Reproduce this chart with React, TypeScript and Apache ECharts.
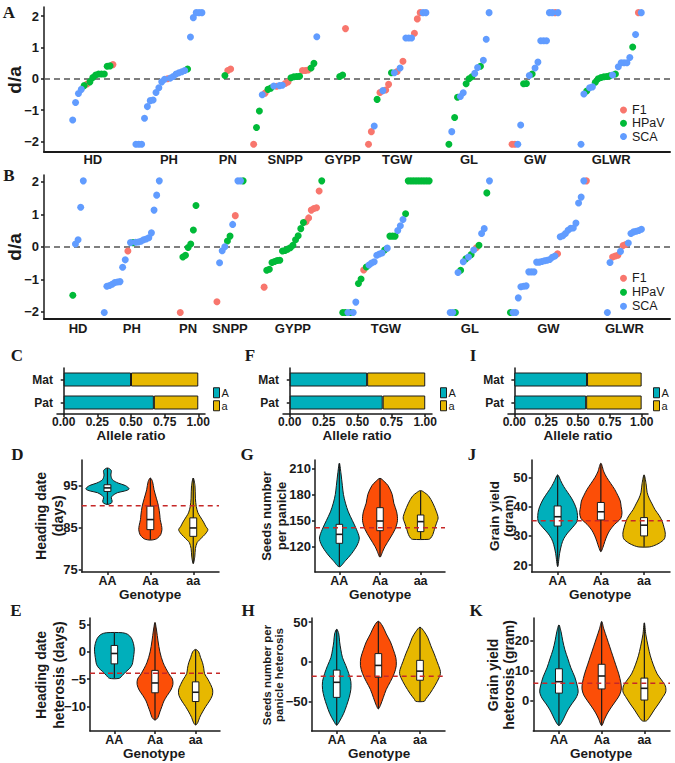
import React, { useEffect, useRef } from "react";
import * as echarts from "echarts";

const FONT = '"Liberation Sans", Arial, Helvetica, sans-serif';
const SERIF = '"Liberation Serif", "Times New Roman", serif';
const INK = "#1a1a1a";

// ---------------- Panels A / B : d/a per trait ----------------
const TRAITS = ["HD", "PH", "PN", "SNPP", "GYPP", "TGW", "GL", "GW", "GLWR"];
const SOURCE_NAMES = ["F1", "HPaV", "SCA"];
const SOURCE_CODES = ["F", "H", "S"];
const SOURCE_COLORS = ["#F8766D", "#00BA38", "#619CFF"];
const DA_TICKS = [-2, -1, 0, 1, 2];

type P = [number, string];

const A_HD: P[] = [[-1.32,"S"],[-0.76,"S"],[-0.47,"S"],[-0.34,"S"],[-0.22,"H"],[-0.17,"F"],[-0.10,"H"],[0.04,"H"],[0.12,"H"],[0.15,"H"],[0.15,"H"],[0.15,"H"],[0.40,"H"],[0.41,"H"],[0.45,"F"]];
const A_PH: P[] = [[-2.09,"S"],[-2.09,"S"],[-2.09,"S"],[-1.26,"S"],[-0.89,"S"],[-0.70,"S"],[-0.68,"S"],[-0.44,"S"],[-0.29,"S"],[-0.10,"S"],[-0.02,"S"],[0,"F"],[0.02,"S"],[0.07,"S"],[0.15,"S"],[0.19,"S"],[0.22,"S"],[0.26,"S"],[0.31,"H"],[1.33,"S"],[1.95,"S"],[2.11,"S"],[2.11,"S"],[2.11,"S"]];
const A_PN: P[] = [[0.10,"H"],[0.26,"F"],[0.31,"F"]];
const A_SNPP: P[] = [[-2.09,"F"],[-1.56,"H"],[-1.03,"H"],[-0.51,"S"],[-0.46,"F"],[-0.34,"H"],[-0.30,"H"],[-0.23,"S"],[-0.24,"F"],[-0.22,"S"],[-0.21,"S"],[-0.15,"F"],[-0.10,"F"],[0.03,"H"],[0.06,"H"],[0.07,"H"],[0.08,"H"],[0.26,"F"],[0.26,"F"],[0.28,"F"],[0.34,"H"],[0.49,"H"],[1.34,"S"]];
const A_GYPP: P[] = [[0.07,"H"],[0.12,"H"],[1.60,"F"]];
const A_TGW: P[] = [[-2.09,"F"],[-1.69,"F"],[-1.51,"S"],[-0.66,"H"],[-0.44,"F"],[-0.38,"S"],[-0.36,"F"],[-0.18,"F"],[0.19,"H"],[0.19,"S"],[0.23,"F"],[0.34,"S"],[0.56,"F"],[1.30,"S"],[1.30,"S"],[1.30,"S"],[1.45,"F"],[1.91,"F"],[2.11,"F"],[2.11,"S"],[2.11,"S"]];
const A_GL: P[] = [[-2.09,"H"],[-1.69,"S"],[-1.24,"H"],[-0.59,"H"],[-0.57,"S"],[-0.45,"S"],[-0.16,"H"],[0,"H"],[0.06,"H"],[0.17,"S"],[0.36,"S"],[0.40,"H"],[0.59,"S"],[1.26,"S"],[2.11,"S"]];
const A_GW: P[] = [[-2.09,"F"],[-2.09,"F"],[-2.09,"S"],[-1.48,"S"],[-0.16,"H"],[-0.15,"H"],[0.10,"S"],[0.15,"H"],[0.34,"S"],[0.53,"S"],[1.21,"S"],[1.21,"S"],[1.21,"S"],[2.11,"S"],[2.11,"S"],[2.11,"F"],[2.11,"S"]];
const A_GLWR: P[] = [[-2.09,"S"],[-0.49,"S"],[-0.39,"H"],[-0.29,"S"],[-0.26,"S"],[-0.11,"H"],[0,"H"],[0.04,"H"],[0.06,"H"],[0.07,"H"],[0.09,"H"],[0.12,"S"],[0.15,"H"],[0.38,"S"],[0.51,"S"],[0.51,"S"],[0.51,"S"],[0.68,"S"],[1.01,"H"],[1.41,"S"],[2.11,"F"],[2.11,"S"]];

const B_HD: P[] = [[-1.49,"H"],[0.09,"S"],[0.22,"S"],[1.22,"S"],[2.03,"S"]];
const B_PH: P[] = [[-2.02,"S"],[-1.21,"S"],[-1.19,"S"],[-1.15,"S"],[-1.10,"S"],[-1.08,"S"],[-1.07,"S"],[-0.63,"S"],[-0.40,"S"],[-0.13,"F"],[0.13,"S"],[0.13,"H"],[0.14,"S"],[0.15,"S"],[0.17,"S"],[0.22,"S"],[0.24,"S"],[0.28,"S"],[0.43,"S"],[1.13,"S"],[1.59,"S"],[2.03,"S"]];
const B_PN: P[] = [[-2.02,"F"],[-0.31,"H"],[-0.26,"H"],[-0.02,"H"],[0.09,"H"],[0.52,"H"],[1.27,"H"]];
const B_SNPP: P[] = [[-1.69,"F"],[-0.49,"S"],[-0.12,"S"],[0,"S"],[0.18,"H"],[0.33,"H"],[0.69,"S"],[0.96,"F"],[2.03,"S"],[2.03,"S"],[2.03,"H"]];
const B_GYPP: P[] = [[-1.24,"F"],[-0.72,"H"],[-0.69,"H"],[-0.48,"H"],[-0.45,"H"],[-0.42,"H"],[-0.41,"H"],[-0.13,"H"],[-0.11,"H"],[-0.07,"H"],[-0.03,"H"],[0.05,"H"],[0.22,"H"],[0.34,"H"],[0.56,"H"],[0.75,"H"],[0.77,"F"],[0.89,"F"],[1.13,"F"],[1.18,"F"],[1.20,"F"],[1.72,"F"],[2.03,"H"]];
const B_TGW: P[] = [[-2.02,"H"],[-2.02,"H"],[-2.02,"S"],[-2.02,"H"],[-2.02,"S"],[-1.70,"S"],[-1.13,"H"],[-0.99,"H"],[-0.71,"F"],[-0.62,"H"],[-0.56,"S"],[-0.50,"S"],[-0.46,"S"],[-0.26,"S"],[-0.22,"S"],[-0.19,"S"],[-0.10,"H"],[-0.04,"S"],[0.33,"H"],[0.33,"H"],[0.33,"H"],[0.50,"S"],[0.65,"S"],[0.84,"S"],[1.02,"H"],[2.03,"H"],[2.03,"H"],[2.03,"H"],[2.03,"H"],[2.03,"H"],[2.03,"H"],[2.03,"H"],[2.03,"H"],[2.03,"H"]];
const B_GL: P[] = [[-2.02,"S"],[-2.02,"S"],[-2.02,"H"],[-0.79,"S"],[-0.72,"H"],[-0.46,"S"],[-0.37,"H"],[-0.31,"S"],[-0.24,"H"],[-0.10,"S"],[-0.03,"F"],[0.05,"H"],[0.41,"S"],[0.56,"S"],[1.66,"H"],[2.03,"S"]];
const B_GW: P[] = [[-2.02,"H"],[-2.02,"S"],[-2.02,"S"],[-1.57,"S"],[-1.23,"S"],[-1.21,"S"],[-1.20,"S"],[-0.77,"S"],[-0.77,"S"],[-0.77,"S"],[-0.47,"S"],[-0.47,"S"],[-0.45,"S"],[-0.43,"S"],[-0.41,"S"],[-0.39,"S"],[-0.32,"S"],[-0.28,"S"],[-0.21,"F"],[0.31,"S"],[0.34,"S"],[0.41,"S"],[0.51,"S"],[0.57,"S"],[0.58,"S"],[0.73,"S"],[1.35,"S"],[1.53,"S"],[2.03,"S"],[2.03,"F"]];
const B_GLWR: P[] = [[-2.02,"S"],[-0.48,"S"],[-0.31,"F"],[-0.28,"F"],[-0.26,"F"],[-0.14,"S"],[0.04,"F"],[0.07,"F"],[0.12,"S"],[0.41,"S"],[0.46,"S"],[0.48,"S"],[0.50,"S"],[0.54,"S"]];

const A_GROUPS = [A_HD, A_PH, A_PN, A_SNPP, A_GYPP, A_TGW, A_GL, A_GW, A_GLWR];
const B_GROUPS = [B_HD, B_PH, B_PN, B_SNPP, B_GYPP, B_TGW, B_GL, B_GW, B_GLWR];

// ---------------- Panels C / F / I : allele ratio ----------------
const PARENTS = ["Pat", "Mat"];
const ALLELES = ["A", "a"];
const RATIO_TICKS = [0, 0.25, 0.5, 0.75, 1];
const C_A = [0.67, 0.5];
const C_a = [0.33, 0.5];
const F_A = [0.686, 0.571];
const F_a = [0.314, 0.429];
const I_A = [0.564, 0.571];
const I_a = [0.436, 0.429];

// ---------------- Violin panels ----------------
const GENOTYPES = ["AA", "Aa", "aa"];
const GENO_COLORS = ["#00AFBB", "#FC4E07", "#E7B800"];
type V = [number, number]; // [value, half width in genotype units]

// D: Heading date (days)
const D_TICKS = [75, 85, 95];
const D_AA: V[] = [[99.2,0],[98.6,0.09],[97.5,0.08],[96.4,0.117],[95.6,0.25],[95.0,0.42],[94.2,0.505],[93.7,0.4],[93.3,0.23],[92.6,0.12],[92.1,0.09],[91.3,0.11],[90.8,0.09],[90.5,0]];
const D_Aa: V[] = [[96.8,0],[96.0,0.05],[94.0,0.086],[92,0.14],[90.1,0.19],[88,0.22],[86.9,0.23],[85.5,0.26],[84.5,0.27],[83.3,0.24],[82.5,0.17],[82.2,0.12],[82.0,0]];
const D_aa: V[] = [[96.8,0],[95,0.04],[92,0.05],[90,0.07],[88.5,0.11],[87.7,0.155],[86.3,0.24],[85.3,0.29],[84.5,0.34],[83.7,0.3],[82.9,0.23],[82,0.14],[81.4,0.09],[80,0.05],[78,0.035],[76.4,0]];
const D_BOX = [[90.5,93.6,94.45,95.2,99.2],[82.1,84.5,86.9,90.1,96.8],[76.4,82.9,84.9,87.3,96.8]];
const D_MEAN = 90.2;

// G: Seeds number per panicle
const G_TICKS = [120, 150, 180, 210];
const G_AA: V[] = [[216,0],[205,0.037],[190,0.074],[180,0.1],[170,0.15],[160,0.22],[150,0.32],[140,0.42],[130,0.49],[122,0.44],[112,0.3],[104,0.15],[97,0]];
const G_Aa: V[] = [[198.5,0],[195,0.1],[190,0.2],[180,0.3],[170,0.34],[160,0.41],[150,0.43],[140,0.37],[130,0.25],[120,0.12],[115,0.07],[108,0]];
const G_aa: V[] = [[184.5,0],[182,0.1],[178,0.2],[170,0.3],[160,0.39],[153,0.43],[147,0.39],[140,0.34],[134,0.3],[130,0.25],[128.5,0.2]];
const G_BOX = [[97,123.9,134.2,145.7,215],[108.5,138.4,149.5,164.8,198],[128.5,137.3,148.8,156.4,184]];
const G_MEAN = 141.9;

// J: Grain yield (gram)
const J_TICKS = [20, 30, 40, 50];
const J_AA: V[] = [[51,0],[49,0.07],[47,0.14],[45,0.23],[43,0.32],[41,0.39],[39,0.44],[37,0.46],[35,0.45],[33,0.35],[31,0.23],[29,0.14],[27,0.09],[24,0.046],[19.5,0]];
const J_Aa: V[] = [[55,0],[52,0.07],[50,0.14],[48,0.23],[46,0.32],[44,0.39],[42,0.45],[40,0.47],[38,0.49],[36,0.46],[34,0.32],[32,0.21],[30,0.14],[28,0.09],[26,0.046],[24.6,0]];
const J_aa: V[] = [[51,0],[48,0.046],[45,0.07],[43,0.116],[41,0.185],[39,0.255],[37,0.35],[35,0.42],[33,0.46],[31,0.49],[29,0.47],[27.5,0.35],[26.6,0.22],[26.2,0.12]];
const J_BOX = [[19.5,33.4,36.6,40.3,50.9],[24.6,35.5,38.3,41.5,54.8],[26.3,30,33.7,36.3,50.9]];
const J_MEAN = 35.2;

// E: Heading date heterosis (days)
const E_TICKS = [-10, -5, 0, 5];
const E_AA: V[] = [[3.5,0.2],[3.2,0.33],[2.5,0.42],[1.5,0.47],[0.5,0.49],[-0.5,0.48],[-1.5,0.46],[-2.3,0.44],[-3,0.38],[-3.6,0.29],[-4.3,0.2],[-4.85,0.12]];
const E_Aa: V[] = [[5.4,0],[4,0.037],[2,0.074],[0,0.12],[-2,0.2],[-4,0.34],[-5,0.43],[-6,0.44],[-7,0.39],[-8,0.3],[-9,0.22],[-10,0.17],[-11,0.12],[-12,0.074],[-12.5,0]];
const E_aa: V[] = [[0.45,0],[0,0.074],[-1,0.12],[-2,0.17],[-3,0.2],[-4,0.22],[-5,0.3],[-6,0.37],[-7,0.42],[-8,0.41],[-9,0.34],[-10,0.25],[-11,0.17],[-12,0.1],[-13,0.05],[-13.4,0]];
const E_BOX = [[-4.85,-2.2,-0.3,1.17,3.5],[-12.5,-7.5,-5.7,-3.4,5.3],[-13.4,-9.1,-7.4,-5.5,0.4]];
const E_MEAN = -3.9;

// H: Seeds number per panicle heterosis
const H_TICKS = [-50, 0, 50];
const H_AA: V[] = [[41,0],[35,0.05],[25,0.07],[15,0.1],[5,0.14],[-5,0.22],[-15,0.29],[-25,0.34],[-35,0.34],[-45,0.3],[-55,0.24],[-65,0.17],[-75,0.07],[-80,0]];
const H_Aa: V[] = [[51,0],[45,0.1],[35,0.19],[25,0.29],[15,0.36],[5,0.42],[-5,0.43],[-15,0.38],[-25,0.29],[-35,0.19],[-45,0.12],[-55,0.05],[-59.5,0]];
const H_aa: V[] = [[43.5,0],[38,0.1],[30,0.19],[20,0.26],[10,0.34],[0,0.41],[-10,0.48],[-15,0.49],[-20,0.46],[-30,0.36],[-40,0.24],[-47,0.14],[-50,0.1]];
const H_BOX = [[-80,-45,-26,-10.6,41],[-59.5,-19.6,-4.7,10.2,51],[-50,-23.4,-11.9,1.7,43.4]];
const H_MEAN = -18.3;

// K: Grain yield heterosis (gram)
const K_TICKS = [0, 10, 20];
const K_AA: V[] = [[25.3,0],[23,0.05],[20,0.09],[17,0.14],[14,0.21],[11,0.28],[8,0.37],[5,0.43],[3,0.45],[1,0.4],[-1,0.3],[-3,0.21],[-5,0.14],[-7,0.07],[-8.2,0]];
const K_Aa: V[] = [[26.4,0],[24,0.05],[21,0.12],[18,0.19],[15,0.26],[12,0.33],[9,0.4],[6,0.45],[4,0.46],[2,0.42],[0,0.33],[-2,0.23],[-4,0.14],[-6,0.07],[-8.2,0]];
const K_aa: V[] = [[26,0],[22,0.035],[18,0.09],[15,0.14],[12,0.21],[9,0.3],[7,0.4],[5,0.49],[3,0.5],[1,0.42],[-1,0.33],[-3,0.23],[-5,0.14],[-6.6,0.05]];
const K_BOX = [[-8.2,2.6,6.4,10.7,25.3],[-8.2,4,8.3,12.2,26.4],[-6.6,0.3,4.2,7.6,25.9]];
const K_MEAN = 5.9;

// ---------------- helpers ----------------
const minus = (v: number) => (v < 0 ? "\u2212" + Math.abs(v) : String(v));
const lineStyle = { color: INK, width: 1.5 };

function layoutTraits(groups: P[][], start: number, gap: number) {
  const xs: number[][] = [];
  const centers: number[] = [];
  let pos = start;
  groups.forEach((g) => {
    xs.push(g.map((_, i) => pos + i));
    centers.push(pos + (g.length - 1) / 2);
    pos += g.length - 1 + gap;
  });
  return { xs, centers };
}

function valueYAxis(gridIndex: number, min: number, max: number, ticks: number[], fontSize: number, margin: number) {
  return {
    type: "value", gridIndex, min, max,
    axisLine: { show: true, lineStyle },
    axisTick: { show: true, length: 3, customValues: ticks, lineStyle },
    axisLabel: { customValues: ticks, formatter: (v: number) => minus(v), fontSize, fontWeight: "bold", fontFamily: FONT, color: INK, margin },
    splitLine: { show: false },
  };
}

function genoXAxis(gridIndex: number) {
  return {
    type: "value", gridIndex, min: 0.4, max: 3.6,
    axisLine: { show: true, onZero: false, lineStyle },
    axisTick: { show: true, length: 3, customValues: [1, 2, 3], lineStyle },
    axisLabel: { customValues: [1, 2, 3], formatter: (v: number) => GENOTYPES[Math.round(v) - 1], fontSize: 12.5, fontWeight: "bold", fontFamily: FONT, color: INK, margin: 2 },
    splitLine: { show: false },
  };
}

function scatterSeries(groups: P[][], layout: { xs: number[][] }, axisIdx: number) {
  return SOURCE_CODES.map((code, s) => {
    const data: number[][] = [];
    groups.forEach((g, gi) => g.forEach((p, i) => { if (p[1] === code) data.push([layout.xs[gi][i], p[0]]); }));
    return {
      type: "scatter", name: SOURCE_NAMES[s], xAxisIndex: axisIdx, yAxisIndex: axisIdx,
      symbolSize: 7, itemStyle: { color: SOURCE_COLORS[s], opacity: 1 }, data, silent: true, z: 3,
    };
  });
}

function violinSeries(profiles: V[][], boxes: number[][], axisIdx: number) {
  return {
    type: "custom", xAxisIndex: axisIdx, yAxisIndex: axisIdx, silent: true, z: 2,
    data: boxes.map((b, i) => [i + 1, b[2]]),
    renderItem: (params: any, api: any) => {
      const i = params.dataIndex;
      const cx = api.value(0) as number;
      const prof = profiles[i];
      const box = boxes[i];
      const right = prof.map(([v, w]) => api.coord([cx + w, v]));
      const left = prof.filter(([, w]) => w > 0).reverse().map(([v, w]) => api.coord([cx - w, v]));
      const bw = api.size([0.16, 0])[0];
      const xc = api.coord([cx, box[0]])[0];
      const yLow = api.coord([cx, box[0]])[1];
      const yQ1 = api.coord([cx, box[1]])[1];
      const yMed = api.coord([cx, box[2]])[1];
      const yQ3 = api.coord([cx, box[3]])[1];
      const yHigh = api.coord([cx, box[4]])[1];
      return {
        type: "group",
        children: [
          { type: "polygon", shape: { points: [...right, ...left], smooth: 0.3 }, style: { fill: GENO_COLORS[i], stroke: INK, lineWidth: 1 } },
          { type: "line", shape: { x1: xc, y1: yLow, x2: xc, y2: yHigh }, style: { stroke: INK, lineWidth: 1.2 } },
          { type: "rect", shape: { x: xc - bw / 2, y: yQ3, width: bw, height: yQ1 - yQ3 }, style: { fill: "#ffffff", stroke: INK, lineWidth: 1 } },
          { type: "line", shape: { x1: xc - bw / 2, y1: yMed, x2: xc + bw / 2, y2: yMed }, style: { stroke: INK, lineWidth: 1.6 } },
        ],
      };
    },
  };
}

function meanLine(axisIdx: number, m: number) {
  return {
    type: "line", xAxisIndex: axisIdx, yAxisIndex: axisIdx, silent: true, z: 5,
    data: [[0.4, m], [3.6, m]], symbol: "none",
    lineStyle: { color: "#C62828", type: [5, 4], width: 1.5 },
  };
}

function barSeries(axisIdx: number, aVals: number[], bVals: number[], stack: string) {
  return [aVals, bVals].map((vals, k) => ({
    type: "bar", name: ALLELES[k], xAxisIndex: axisIdx, yAxisIndex: axisIdx, stack,
    data: vals, barWidth: 14, silent: true,
    itemStyle: { color: k === 0 ? GENO_COLORS[0] : GENO_COLORS[2], borderColor: INK, borderWidth: 1 },
  }));
}

function text(x: number, y: number, t: string, size: number, opts: any = {}) {
  return {
    type: "text", x, y, rotation: opts.rotate ? Math.PI / 2 : 0, silent: true,
    style: {
      text: t, fontSize: size, fontWeight: opts.normal ? "normal" : "bold", fontFamily: opts.serif ? SERIF : FONT, fill: INK,
      align: "center", verticalAlign: "middle",
    },
  };
}

export default function App() {
  const ref = useRef<HTMLDivElement>(null);
  useEffect(() => {
    if (!ref.current) return;
    const chart = echarts.init(ref.current, undefined, { renderer: "svg" });
    const layA = layoutTraits(A_GROUPS, 10, 8);
    const layB = layoutTraits(B_GROUPS, 11, 8);
    const traitAxis = (gridIndex: number, max: number, centers: number[], margin: number) => ({
      type: "value", gridIndex, min: 0, max,
      axisLine: { show: true, onZero: false, lineStyle: { color: INK, width: 2 } },
      axisTick: { show: false },
      axisLabel: {
        customValues: centers,
        formatter: (v: number) => { const k = centers.findIndex((c) => Math.abs(c - v) < 1e-6); return k >= 0 ? TRAITS[k] : ""; },
        fontSize: 13, fontWeight: "bold", fontFamily: FONT, color: INK, margin,
      },
      splitLine: { show: false },
    });
    const ratioXAxis = (gridIndex: number) => ({
      type: "value", gridIndex, min: -0.05, max: 1.05,
      axisLine: { show: true, onZero: false, lineStyle },
      axisTick: { show: true, length: 3, customValues: RATIO_TICKS, lineStyle },
      axisLabel: { customValues: RATIO_TICKS, formatter: (v: number) => v.toFixed(2), fontSize: 12, fontWeight: "bold", fontFamily: FONT, color: INK, margin: 2 },
      splitLine: { show: false },
    });
    const parentYAxis = (gridIndex: number) => ({
      type: "category", gridIndex, data: PARENTS,
      axisLine: { show: true, lineStyle },
      axisTick: { show: true, length: 3, alignWithLabel: true, lineStyle },
      axisLabel: { fontSize: 12, fontWeight: "bold", fontFamily: FONT, color: INK, margin: 4 },
    });
    const zeroLine = {
      silent: true, symbol: ["none", "none"], label: { show: false }, z: 1,
      lineStyle: { color: "#555555", type: [6, 4], width: 1.5 }, data: [{ yAxis: 0 }],
    };
    const sA = scatterSeries(A_GROUPS, layA, 0);
    const sB = scatterSeries(B_GROUPS, layB, 1);
    (sA[0] as any).markLine = zeroLine;
    (sB[0] as any).markLine = zeroLine;

    const srcLegend = (top: number, lh: number) => ({
      data: SOURCE_NAMES, orient: "vertical", left: 620, top, padding: 0, itemWidth: 7, itemHeight: 7, itemGap: 0,
      icon: "circle", selectedMode: false,
      textStyle: { fontSize: 12.5, fontFamily: FONT, color: INK, lineHeight: lh },
    });
    const alleleLegend = (left: number) => ({
      data: ALLELES, orient: "vertical", left, top: 387, padding: 0, itemWidth: 6, itemHeight: 10, itemGap: 1.5,
      icon: "rect", selectedMode: false, itemStyle: { borderColor: INK, borderWidth: 1 },
      textStyle: { fontSize: 11, fontFamily: FONT, color: INK, lineHeight: 11.5, padding: [0, 0, 0, -3] },
    });

    const option: any = {
      animation: false,
      backgroundColor: "#ffffff",
      grid: [
        { left: 44, top: 7, width: 626, height: 145 },
        { left: 44, top: 175, width: 626, height: 144 },
        { left: 57, top: 368, width: 148, height: 46 },
        { left: 283, top: 368, width: 149, height: 46 },
        { left: 508, top: 368, width: 140, height: 46 },
        { left: 81.7, top: 460, width: 137.3, height: 112 },
        { left: 315, top: 460, width: 130, height: 112 },
        { left: 531.7, top: 460, width: 138.3, height: 112 },
        { left: 90, top: 618, width: 130, height: 113 },
        { left: 311.7, top: 618, width: 133.3, height: 113 },
        { left: 533.3, top: 618, width: 136.7, height: 113 },
      ],
      xAxis: [
        traitAxis(0, 218, layA.centers, 1),
        traitAxis(1, 238.9, layB.centers, 3),
        ratioXAxis(2), ratioXAxis(3), ratioXAxis(4),
        genoXAxis(5), genoXAxis(6), genoXAxis(7), genoXAxis(8), genoXAxis(9), genoXAxis(10),
      ],
      yAxis: [
        valueYAxis(0, -2.34, 2.29, DA_TICKS, 13, 5),
        valueYAxis(1, -2.22, 2.21, DA_TICKS, 13, 5),
        parentYAxis(2), parentYAxis(3), parentYAxis(4),
        valueYAxis(5, 74.4, 101.1, D_TICKS, 13, 4),
        valueYAxis(6, 91, 219.5, G_TICKS, 13, 4),
        valueYAxis(7, 17.6, 56.1, J_TICKS, 13, 4),
        valueYAxis(8, -14.5, 6.2, E_TICKS, 13, 4),
        valueYAxis(9, -87.4, 55.1, H_TICKS, 13, 4),
        valueYAxis(10, -10, 27.6, K_TICKS, 13, 4),
      ],
      legend: [srcLegend(103.3, 13.3), srcLegend(271.3, 14), alleleLegend(213), alleleLegend(440), alleleLegend(653)],
      series: [
        ...sA, ...sB,
        ...barSeries(2, C_A, C_a, "C"),
        ...barSeries(3, F_A, F_a, "F"),
        ...barSeries(4, I_A, I_a, "I"),
        violinSeries([D_AA, D_Aa, D_aa], D_BOX, 5), meanLine(5, D_MEAN),
        violinSeries([G_AA, G_Aa, G_aa], G_BOX, 6), meanLine(6, G_MEAN),
        violinSeries([J_AA, J_Aa, J_aa], J_BOX, 7), meanLine(7, J_MEAN),
        violinSeries([E_AA, E_Aa, E_aa], E_BOX, 8), meanLine(8, E_MEAN),
        violinSeries([H_AA, H_Aa, H_aa], H_BOX, 9), meanLine(9, H_MEAN),
        violinSeries([K_AA, K_Aa, K_aa], K_BOX, 10), meanLine(10, K_MEAN),
      ],
      graphic: [
        text(9, 12, "A", 17, { serif: true }),
        text(9, 175, "B", 17, { serif: true }),
        text(17, 355, "C", 17, { serif: true }),
        text(250, 355, "F", 17, { serif: true }),
        text(473, 355, "I", 17, { serif: true }),
        text(17.5, 454, "D", 17, { serif: true }),
        text(247, 454, "G", 17, { serif: true }),
        text(472, 454, "J", 17, { serif: true }),
        text(16, 610, "E", 17, { serif: true }),
        text(248, 610, "H", 17, { serif: true }),
        text(476, 610, "K", 17, { serif: true }),
        text(14, 80, "d/a", 19, { rotate: true }),
        text(14, 247, "d/a", 19, { rotate: true }),
        text(131, 435, "Allele ratio", 13.5),
        text(357, 435, "Allele ratio", 13.5),
        text(578, 435, "Allele ratio", 13.5),
        text(41, 516, "Heading date", 14, { rotate: true }),
        text(57.5, 516, "(days)", 14, { rotate: true }),
        text(266, 516, "Seeds number", 13, { rotate: true }),
        text(281, 516, "per panicle", 13, { rotate: true }),
        text(494.5, 516, "Grain yield", 13.5, { rotate: true }),
        text(508.5, 516, "(gram)", 13.5, { rotate: true }),
        text(41, 675, "Heading date", 14, { rotate: true }),
        text(58.5, 675, "heterosis (days)", 14, { rotate: true }),
        text(267, 675, "Seeds number per", 11.5, { rotate: true }),
        text(278.5, 675, "panicle heterosis", 11.5, { rotate: true }),
        text(492.5, 675, "Grain yield", 14, { rotate: true }),
        text(508.5, 675, "heterosis (gram)", 14, { rotate: true }),
        text(150, 594, "Genotype", 13.5),
        text(380, 594, "Genotype", 13.5),
        text(600, 594, "Genotype", 13.5),
        text(154, 753, "Genotype", 13.5),
        text(379, 753, "Genotype", 13.5),
        text(601, 753, "Genotype", 13.5),
      ],
    };
    chart.setOption(option);
    return () => chart.dispose();
  }, []);
  return (
    <div style={{ position: "fixed", left: 0, top: 0, width: 675, height: 763, background: "#fff" }}>
      <div ref={ref} style={{ width: 675, height: 763 }} />
    </div>
  );
}
